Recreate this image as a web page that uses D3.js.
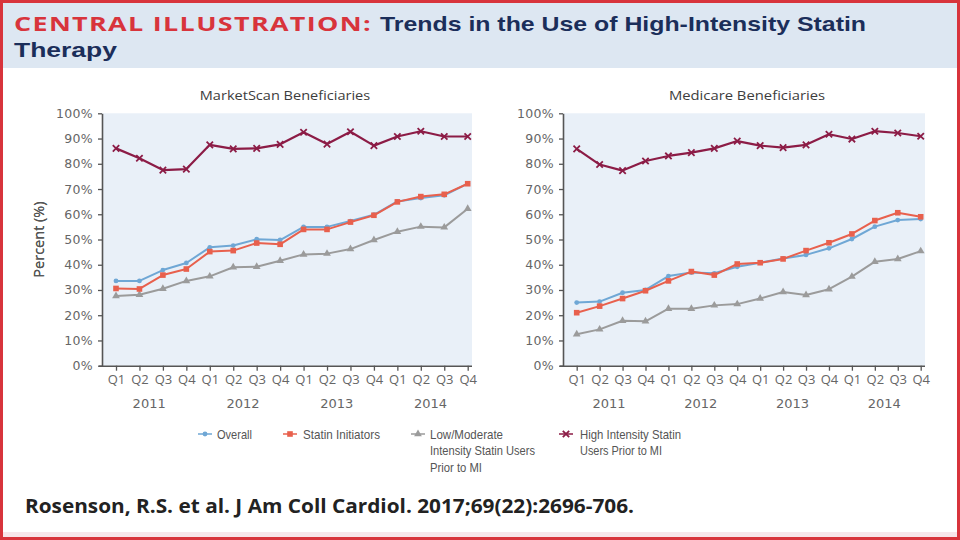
<!DOCTYPE html>
<html><head><meta charset="utf-8">
<script src="https://cdn.jsdelivr.net/npm/d3@7"></script>
<style>body{margin:0;background:#fff} svg{display:block}</style>
</head><body><svg id="c" width="960" height="540"></svg>
<script>
// ---------- data ----------
const quarters = ["Q1","Q2","Q3","Q4"];
const years = ["2011","2012","2013","2014"];
const periods = years.flatMap(y => quarters.map(q => y + " " + q));
const yTicks = [0,10,20,30,40,50,60,70,80,90,100];
const seriesNames = ["Overall","Statin Initiators","Low/Moderate Intensity Statin Users Prior to MI","High Intensity Statin Users Prior to MI"];
const panelTitles = ["MarketScan Beneficiaries","Medicare Beneficiaries"];

const msOverall   = [33.6,33.6,37.9,40.7, 46.9,47.6,50.1,49.8, 55.0,55.0,57.3,59.8, 65.1,66.4,67.5,72.1];
const msInitiators= [30.6,30.4,35.9,38.3, 45.2,45.6,48.6,48.1, 54.0,54.0,56.9,59.6, 64.9,67.0,67.9,72.1];
const msLowMod    = [27.6,28.1,30.5,33.6, 35.4,39.0,39.2,41.6, 44.1,44.4,46.2,49.8, 53.1,55.1,54.8,62.2];
const msHigh      = [86.1,82.2,77.5,77.9, 87.5,85.9,86.1,87.7, 92.5,87.8,92.7,87.2, 90.8,92.9,90.8,90.8];

const mcOverall   = [25.0,25.4,28.9,30.0, 35.5,36.9,36.6,39.2, 40.8,42.5,43.9,46.5, 50.2,55.1,57.7,58.1];
const mcInitiators= [21.0,23.6,26.6,29.7, 33.6,37.3,35.9,40.3, 40.8,42.3,45.6,48.7, 52.2,57.5,60.6,59.0];
const mcLowMod    = [12.5,14.4,17.8,17.6, 22.6,22.6,23.9,24.4, 26.6,29.2,28.0,30.3, 35.3,41.2,42.3,45.4];
const mcHigh      = [85.9,79.7,77.3,81.1, 83.1,84.4,86.1,89.0, 87.2,86.4,87.5,91.7, 89.8,92.9,92.2,90.9];

// ---------- styles ----------
const colors = ["#6fa7d5","#e8604d","#9b9b9b","#8c1c46"];
const markers = ["circle","square","triangle","x"];
const narrow = "'Liberation Sans',Arial,sans-serif";
const sans = "'Open Sans','DejaVu Sans',sans-serif";
const wide = "'DejaVu Sans','Open Sans',sans-serif";

const svg = d3.select("#c");

// frame & header
svg.append("rect").attr("x",0).attr("y",0).attr("width",960).attr("height",540).attr("fill","#fff");
svg.append("rect").attr("x",3).attr("y",3).attr("width",954).attr("height",65).attr("fill","#dde7f2");
svg.append("rect").attr("x",3).attr("y",532).attr("width",954).attr("height",5).attr("fill","#f7e6ea");
svg.append("rect").attr("x",1.5).attr("y",1.5).attr("width",957).attr("height",537)
  .attr("fill","none").attr("stroke","#d8343c").attr("stroke-width",3);

svg.append("text").attr("x",14).attr("y",31).attr("font-family",sans).attr("font-weight","bold")
  .attr("font-size",20).attr("fill","#d8343c").attr("letter-spacing",1)
  .attr("textLength",358).attr("lengthAdjust","spacingAndGlyphs").text("CENTRAL ILLUSTRATION:");
svg.append("text").attr("x",380).attr("y",31).attr("font-family",narrow).attr("font-weight","bold")
  .attr("font-size",21).attr("fill","#1b2e5a")
  .attr("textLength",486).attr("lengthAdjust","spacingAndGlyphs").text("Trends in the Use of High-Intensity Statin");
svg.append("text").attr("x",14).attr("y",57).attr("font-family",narrow).attr("font-weight","bold")
  .attr("font-size",21).attr("fill","#1b2e5a")
  .attr("textLength",103).attr("lengthAdjust","spacingAndGlyphs").text("Therapy");

// citation
svg.append("text").attr("x",25).attr("y",513).attr("font-family",sans).attr("font-weight","bold")
  .attr("font-size",19).attr("fill","#222")
  .attr("textLength",609).attr("lengthAdjust","spacingAndGlyphs")
  .text("Rosenson, R.S. et al. J Am Coll Cardiol. 2017;69(22):2696-706.");

// marker drawing
function drawMarker(g, type, x, y, color) {
  if (type === "circle") {
    g.append("circle").attr("cx",x).attr("cy",y).attr("r",2.4).attr("fill",color);
  } else if (type === "square") {
    g.append("rect").attr("x",x-2.8).attr("y",y-2.8).attr("width",5.6).attr("height",5.6).attr("fill",color);
  } else if (type === "triangle") {
    g.append("path").attr("d", d3.symbol().type(d3.symbolTriangle).size(26)()).attr("transform",`translate(${x},${y})`).attr("fill",color);
  } else {
    const s = 3.2;
    g.append("path").attr("d",`M${x-s},${y-s}L${x+s},${y+s}M${x-s},${y+s}L${x+s},${y-s}`)
      .attr("stroke",color).attr("stroke-width",1.8).attr("fill","none");
  }
}

const panels = [
  {title: panelTitles[0], titleX: 285, axisX: 102, bgRight: 472, x0: 116, x1: 467.7, data: [msOverall, msInitiators, msLowMod, msHigh]},
  {title: panelTitles[1], titleX: 747, axisX: 563, bgRight: 925, x0: 576.7, x1: 920.7, data: [mcOverall, mcInitiators, mcLowMod, mcHigh]}
];
const yTop = 113.3, yBot = 365.7;

panels.forEach(p => {
  const g = svg.append("g");
  const x = d3.scalePoint().domain(periods).range([p.x0, p.x1]);
  const y = d3.scaleLinear().domain([0,100]).range([yBot, yTop]);

  g.append("rect").attr("x",p.axisX).attr("y",yTop).attr("width",p.bgRight-p.axisX).attr("height",yBot-yTop).attr("fill","#e9f0f8");

  g.append("text").attr("x",p.titleX).attr("y",100).attr("text-anchor","middle")
    .attr("font-family",sans).attr("font-size",13.5).attr("fill","#3d3d3d")
    .attr("textLength", p.title.length*7.1).attr("lengthAdjust","spacingAndGlyphs").text(p.title);

  // y axis
  const ya = g.append("g").attr("transform",`translate(${p.axisX},0)`)
    .call(d3.axisLeft(y).tickValues(yTicks).tickSize(4).tickSizeOuter(0).tickFormat(d => d + "%"));
  ya.select(".domain").attr("stroke","#555").attr("stroke-width",1.6);
  ya.selectAll(".tick line").attr("stroke","#555").attr("stroke-width",1.3);
  ya.selectAll(".tick text").attr("font-family",wide).attr("font-size",12.5).attr("letter-spacing",0.3).attr("fill","#666").attr("x",-9);

  // x axis
  const xa = g.append("g").attr("transform",`translate(0,${yBot})`)
    .call(d3.axisBottom(x).tickSize(5).tickSizeOuter(0).tickFormat(d => d.split(" ")[1]));
  xa.select(".domain").attr("d",`M${p.axisX-3},0.5H${p.bgRight}`).attr("stroke","#555").attr("stroke-width",1.6);
  xa.selectAll(".tick line").attr("stroke","#555").attr("stroke-width",1.3);
  xa.selectAll(".tick text").attr("font-family",sans).attr("font-size",13).attr("fill","#666").attr("dy","0.9em").attr("y",7);

  years.forEach((yr, i) => {
    const xa0 = x(yr + " Q1"), xa1 = x(yr + " Q4");
    g.append("text").attr("x",(xa0+xa1)/2 - 2).attr("y",408).attr("text-anchor","middle")
      .attr("font-family",wide).attr("font-size",13).attr("fill","#666").text(yr);
  });

  g.append("text").attr("transform",`translate(44,${(yTop+yBot)/2}) rotate(-90)`).attr("text-anchor","middle")
    .attr("font-family",sans).attr("font-size",14.5).attr("fill","#555").text("Percent (%)");

  // series (draw order: low/mod, overall, initiators, high)
  const line = d3.line().x((d,i) => x(periods[i])).y(d => y(d));
  [2,0,1,3].forEach(si => {
    const vals = p.data[si];
    g.append("path").attr("d", line(vals)).attr("fill","none").attr("stroke",colors[si])
      .attr("stroke-width", si===3 ? 2.2 : 2).attr("stroke-linejoin","round");
    vals.forEach((v,i) => drawMarker(g, markers[si], x(periods[i]), y(v), colors[si]));
  });
});

// legend
const legendItems = [
  {mx: 205, tx: 217, lines: ["Overall"], widths: [35]},
  {mx: 290, tx: 303, lines: ["Statin Initiators"], widths: [77]},
  {mx: 418, tx: 430, lines: ["Low/Moderate","Intensity Statin Users","Prior to MI"], widths: [73,105,52]},
  {mx: 566, tx: 580, lines: ["High Intensity Statin","Users Prior to MI"], widths: [101,82]}
];
const lg = svg.append("g");
legendItems.forEach((it, i) => {
  const cy = 434;
  lg.append("line").attr("x1",it.mx-7).attr("x2",it.mx+7).attr("y1",cy).attr("y2",cy).attr("stroke",colors[i]).attr("stroke-width",1.5);
  drawMarker(lg, markers[i], it.mx, cy, colors[i]);
  it.lines.forEach((l, j) => {
    lg.append("text").attr("x",it.tx).attr("y",cy + 4.5 + j*16.5).attr("font-family",narrow).attr("font-size",13.5).attr("fill","#555")
      .attr("textLength", it.widths[j]).attr("lengthAdjust","spacingAndGlyphs").text(l);
  });
});
</script></body></html>
